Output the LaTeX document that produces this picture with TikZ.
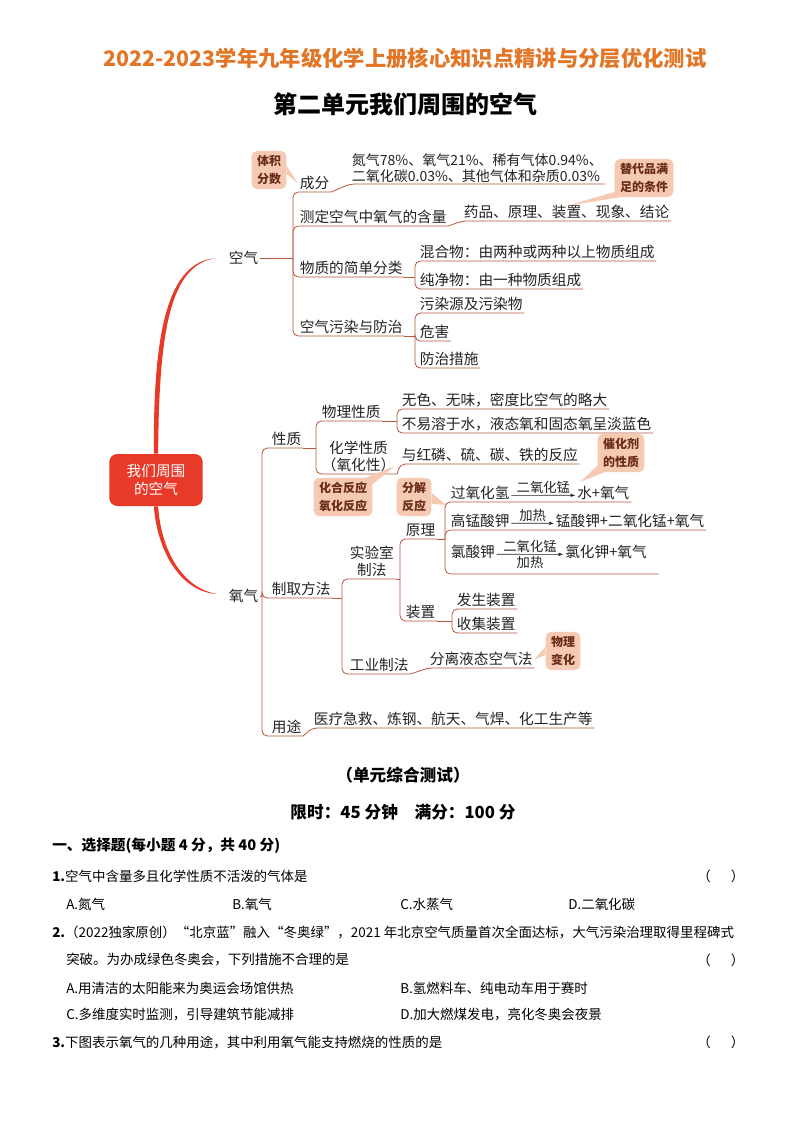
\documentclass[tikz,border=0pt]{standalone}
\usepackage{fontspec}
\setmainfont{Noto Sans CJK SC}
\usetikzlibrary{positioning, arrows.meta, calc}
\definecolor{titleorange}{RGB}{226,118,38}
\definecolor{linkred}{RGB}{184,86,62}
\definecolor{hubred}{RGB}{232,58,40}
\definecolor{tagfill}{RGB}{246,202,178}
\definecolor{tagtext}{RGB}{105,45,25}
\definecolor{inkgray}{RGB}{35,35,35}

\begin{document}
\begin{tikzpicture}[
    x=0.75pt, y=-0.75pt,
    lbl/.style={anchor=south west, inner sep=1.2pt, text=inkgray,
                font=\fontsize{11}{13}\selectfont},
    link/.style={draw=linkred, line width=0.6pt, rounded corners=4pt},
    tag/.style={fill=tagfill, rounded corners=4pt, text=tagtext, align=center,
                inner xsep=4pt, inner ysep=3.5pt,
                font=\bfseries\fontsize{9}{13}\selectfont},
    hub/.style={fill=hubred, rounded corners=6pt, text=white, align=center,
                minimum width=70pt, minimum height=39pt,
                font=\fontsize{11}{14}\selectfont},
    rxn/.style={-{Latex[length=3.5pt, width=2.5pt]}, line width=0.5pt, inkgray},
    cond/.style={inner sep=1pt, text=inkgray, font=\fontsize{10}{11}\selectfont},
    qtext/.style={anchor=west, inner sep=0pt, text=black,
                  font=\fontsize{10.1}{12}\selectfont},
    head/.style={inner sep=0pt, font=\bfseries\fontsize{12.5}{15}\selectfont}
]
\useasboundingbox (0,0) rectangle (794,1123);
\fill[white] (0,0) rectangle (794,1123);
% Titles
\node[inner sep=0pt, text=titleorange, font=\bfseries\fontsize{16}{19}\selectfont]
      (title_a) at (405,58) {2022-2023学年九年级化学上册核心知识点精讲与分层优化测试};
\node[inner sep=0pt, font=\bfseries\fontsize{18}{21}\selectfont]
      (title_b) at (405,104) {第二单元我们周围的空气};
% Hub
\node[hub] (hub) at (156,480) {我们周围\\的空气};
\node[lbl, anchor=west] (kq) at (227,258) {空气};
\node[lbl, anchor=west] (yq) at (227,596) {氧气};
\coordinate (kq_end) at (216,258);
\coordinate (yq_end) at (217,594);
\fill[hubred] ([xshift=-1.6pt]hub.north) .. controls (153,330) and (168,262) .. (kq_end)
      .. controls (170,265) and (159,330) .. ([xshift=1.6pt]hub.north) -- cycle;
\fill[hubred] ([xshift=-1.6pt]hub.south) .. controls (157,550) and (180,592) .. (yq_end)
      .. controls (182,588) and (161,550) .. ([xshift=1.6pt]hub.south) -- cycle;
% Air
\coordinate (kq_b) at (293,258);
\draw[link] (kq.east) -- (kq_b);
\node[lbl] (kq_cf) at (298,192) {成分};
\node[lbl, align=left, font=\fontsize{10.5}{12}\selectfont] (kq_zc) at (350,184)
      {氮气78\%、氧气21\%、稀有气体0.94\%、\\二氧化碳0.03\%、其他气体和杂质0.03\%};
\node[lbl] (kq_cd) at (298,226) {测定空气中氧气的含量};
\node[lbl] (kq_yp) at (462,221) {药品、原理、装置、现象、结论};
\node[lbl] (kq_fl) at (298,277) {物质的简单分类};
\node[lbl] (kq_wr) at (298,336) {空气污染与防治};
\foreach \c in {kq_cf, kq_cd, kq_fl, kq_wr}
  \draw[link] (kq_b) |- (\c.south east);
\draw[link] (kq_cf.south east) -- (kq_zc.south west) -- (kq_zc.south east);
\draw[link] (kq_cd.south east) -- (kq_yp.south west) -- (kq_yp.south east);
\coordinate (fl_b) at (415,277);
\node[lbl] (fl_hh) at (418,261) {混合物：由两种或两种以上物质组成};
\node[lbl] (fl_cj) at (418,289) {纯净物：由一种物质组成};
\draw[link] (kq_fl.south east) -- (fl_b);
\foreach \c in {fl_hh, fl_cj}
  \draw[link] (fl_b) |- (\c.south east);
\coordinate (wr_b) at (415,336);
\node[lbl] (wr_ly) at (418,313) {污染源及污染物};
\node[lbl] (wr_wh) at (418,341) {危害};
\node[lbl] (wr_fz) at (418,368) {防治措施};
\draw[link] (kq_wr.south east) -- (wr_b);
\foreach \c in {wr_ly, wr_wh, wr_fz}
  \draw[link] (wr_b) |- (\c.south east);
\node[tag] (tag_tj) at (269,170) {体积\\分数};
\fill[tagfill] ([yshift=3pt]tag_tj.east) -- (kq_cf.west) -- ([yshift=-3pt]tag_tj.east) -- cycle;
\node[tag] (tag_td) at (644,178) {替代品满\\足的条件};
\coordinate (td_p) at (566,206);
\fill[tagfill] ([yshift=4pt]tag_td.south west) -- (td_p) -- ([xshift=4pt]tag_td.south west) -- cycle;
% Oxygen
\coordinate (yq_b) at (262,596);
\draw[link] (yq.east) -- (yq_b);
\node[lbl] (yq_xz) at (270,448) {性质};
\node[lbl] (yq_zq) at (270,598) {制取方法};
\node[lbl] (yq_yt) at (270,736) {用途};
\foreach \c in {yq_xz, yq_zq, yq_yt}
  \draw[link] (yq_b) |- (\c.south east);
\node[lbl] (yt_ly) at (312,728) {医疗急救、炼钢、航天、气焊、化工生产等};
\draw[link] (yq_yt.south east) -- (yt_ly.south west) -- (yt_ly.south east);
% properties
\coordinate (xz_b) at (316,448);
\node[lbl] (xz_wl) at (320,421) {物理性质};
\node[lbl, align=center] (xz_hx) at (320,474) {化学性质\\（氧化性）};
\draw[link] (yq_xz.south east) -- (xz_b);
\foreach \c in {xz_wl, xz_hx}
  \draw[link] (xz_b) |- (\c.south east);
\coordinate (wl_b) at (397,421);
\node[lbl] (wl_ws) at (400,409) {无色、无味，密度比空气的略大};
\node[lbl] (wl_br) at (400,433) {不易溶于水，液态氧和固态氧呈淡蓝色};
\draw[link] (xz_wl.south east) -- (wl_b);
\foreach \c in {wl_ws, wl_br}
  \draw[link] (wl_b) |- (\c.south east);
\node[lbl] (hx_fy) at (400,464) {与红磷、硫、碳、铁的反应};
\draw[link] (xz_hx.south east) -- (hx_fy.south west) -- (hx_fy.south east);
\node[tag] (tag_ch) at (621,453) {催化剂\\的性质};
\coordinate (ch_p) at (580,482);
\fill[tagfill] ([yshift=5pt]tag_ch.south west) -- (ch_p) -- ([xshift=5pt]tag_ch.south west) -- cycle;
\node[tag] (tag_hh) at (343,497) {化合反应\\氧化反应};
\coordinate (hh_p) at (395,466);
\fill[tagfill] ([yshift=-5pt]tag_hh.north east) -- (hh_p) -- ([xshift=-5pt]tag_hh.north east) -- cycle;
\node[tag] (tag_fj) at (414,497) {分解\\反应};
\coordinate (fj_p) at (446,505);
\fill[tagfill] ([yshift=3pt]tag_fj.east) -- (fj_p) -- ([yshift=-5pt]tag_fj.east) -- cycle;
% preparation
\coordinate (zq_b) at (342,598);
\node[lbl, align=center] (zq_sy) at (348,579) {实验室\\制法};
\node[lbl] (zq_gy) at (348,674) {工业制法};
\draw[link] (yq_zq.south east) -- (zq_b);
\foreach \c in {zq_sy, zq_gy}
  \draw[link] (zq_b) |- (\c.south east);
\coordinate (sy_b) at (400,579);
\node[lbl] (sy_yl) at (404,539) {原理};
\node[lbl] (sy_zz) at (404,621) {装置};
\draw[link] (zq_sy.south east) -- (sy_b);
\foreach \c in {sy_yl, sy_zz}
  \draw[link] (sy_b) |- (\c.south east);
\coordinate (yl_b) at (445,539);
\draw[link] (sy_yl.south east) -- (yl_b);
\node[lbl] (r1_a) at (449,502) {过氧化氢};
\node[lbl, right=48pt of r1_a] (r1_b) {水+氧气};
\draw[rxn] (r1_a.mid east) -- node[cond, above] {二氧化锰} (r1_b.mid west);
\node[lbl] (r2_a) at (449,530) {高锰酸钾};
\node[lbl, right=32pt of r2_a] (r2_b) {锰酸钾+二氧化锰+氧气};
\draw[rxn] (r2_a.mid east) -- node[cond, above] {加热} (r2_b.mid west);
\node[lbl] (r3_a) at (449,561) {氯酸钾};
\node[lbl, right=50pt of r3_a] (r3_b) {氯化钾+氧气};
\draw[rxn] (r3_a.mid east) -- node[cond, above] {二氧化锰}
      node[cond, below] {加热} (r3_b.mid west);
\coordinate (r3_u) at ($(r3_b.south east)+(10,13)$);
\foreach \c in {r1_b.south east, r2_b.south east, r3_u}
  \draw[link] (yl_b) |- (\c);
\coordinate (zz_b) at (452,621);
\node[lbl] (zz_fs) at (455,609) {发生装置};
\node[lbl] (zz_sj) at (455,633) {收集装置};
\draw[link] (sy_zz.south east) -- (zz_b);
\foreach \c in {zz_fs, zz_sj}
  \draw[link] (zz_b) |- (\c.south east);
\node[lbl] (gy_fl) at (428,668) {分离液态空气法};
\draw[link] (zq_gy.south east) -- (gy_fl.south west) -- (gy_fl.south east);
\node[tag] (tag_wl) at (563,651) {物理\\变化};
\fill[tagfill] ([yshift=3pt]tag_wl.west) -- (gy_fl.east) -- ([yshift=-3pt]tag_wl.west) -- cycle;
% Test header
\node[head] (test_t) at (403,775) {（单元综合测试）};
\node[head] (test_s) at (403,812) {限时：45 分钟\quad 满分：100 分};
% Questions
\node[qtext, font=\bfseries\fontsize{11}{13}\selectfont] (q_sec) at (52,846)
      {一、选择题(每小题 4 分，共 40 分)};
\node[qtext] (q1) at (52,876) {\textbf{1.}空气中含量多且化学性质不活泼的气体是};
\node[qtext] (q1_p) at (697,876) {（\hspace{1.5em}）};
\node[qtext] (q1_a) at (66,904) {A.氮气};
\node[qtext] (q1_b) at (232,904) {B.氧气};
\node[qtext] (q1_c) at (400,904) {C.水蒸气};
\node[qtext] (q1_d) at (568,904) {D.二氧化碳};
\node[qtext] (q2) at (52,932)
      {\textbf{2.}（2022独家原创）“北京蓝”融入“冬奥绿”，2021 年北京空气质量首次全面达标，大气污染治理取得里程碑式};
\node[qtext] (q2_l) at (66,960) {突破。为办成绿色冬奥会，下列措施不合理的是};
\node[qtext] (q2_p) at (697,960) {（\hspace{1.5em}）};
\node[qtext] (q2_a) at (66,988) {A.用清洁的太阳能来为奥运会场馆供热};
\node[qtext] (q2_b) at (400,988) {B.氢燃料车、纯电动车用于赛时};
\node[qtext] (q2_c) at (66,1015) {C.多维度实时监测，引导建筑节能减排};
\node[qtext] (q2_d) at (400,1015) {D.加大燃煤发电，亮化冬奥会夜景};
\node[qtext] (q3) at (52,1042) {\textbf{3.}下图表示氧气的几种用途，其中利用氧气能支持燃烧的性质的是};
\node[qtext] (q3_p) at (697,1042) {（\hspace{1.5em}）};
\end{tikzpicture}
\end{document}
